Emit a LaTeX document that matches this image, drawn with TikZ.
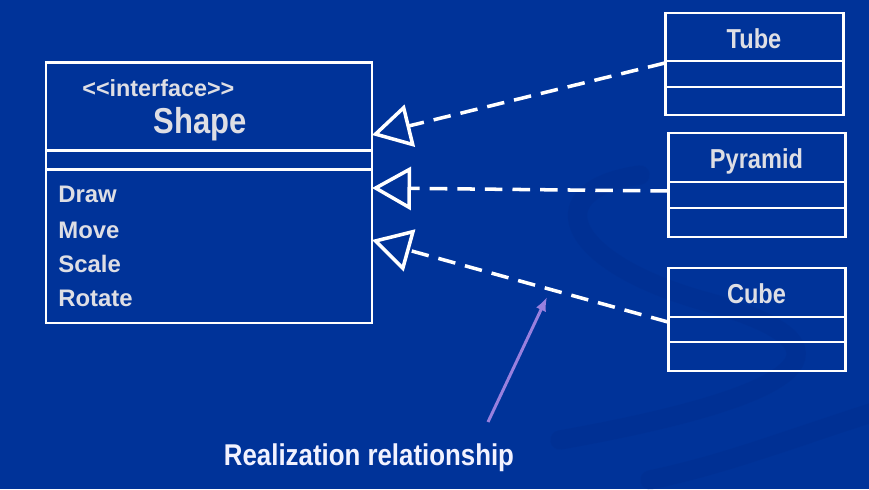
\documentclass[tikz,border=0pt]{standalone}
\usepackage{fontspec}
\setmainfont{Liberation Sans}
\newfontfamily\narrowsans[FakeStretch=0.86]{Liberation Sans}
\usetikzlibrary{positioning,arrows.meta,calc}
\definecolor{slideblue}{RGB}{0,51,153}
\definecolor{swirlblue}{RGB}{0,40,130}
\definecolor{labelgray}{RGB}{222,222,228}
\definecolor{captionwhite}{RGB}{242,242,255}
\definecolor{hintpurple}{RGB}{152,128,222}

\begin{document}
\begin{tikzpicture}[
    font=\bfseries,
    cls/.style={draw=white,line width=1.7pt,outer sep=0pt,inner sep=0pt,text=labelgray},
    clsname/.style={font=\narrowsans\bfseries\fontsize{15.6}{18}\selectfont,text height=13pt,text depth=0pt},
    op/.style={anchor=base west,text=labelgray,inner sep=0pt,font=\bfseries\fontsize{13.6}{16}\selectfont},
    real/.style={draw=white,line width=2pt,dash pattern=on 10pt off 5.7pt,-{Triangle[open,length=0.78cm,width=0.86cm]}},
    hint/.style={draw=hintpurple,line width=1.7pt,-{Latex[length=0.28cm,width=0.22cm]}},
    swirl/.style={draw=swirlblue,line width=11pt,line cap=round,opacity=0.2}
]
    \useasboundingbox (0,0) rectangle (17.38,9.78);
    \fill[slideblue] (0,0) rectangle (17.38,9.78);
    \begin{scope}
        \clip (0,0) rectangle (17.38,9.78);
        \draw[swirl] (12.8,6.28) .. controls (10.8,6.0) and (11.2,4.6) .. (14.0,3.78)
            .. controls (17.0,2.98) and (16.8,1.98) .. (11.2,0.98);
        \draw[swirl] (17.6,1.58) .. controls (15.5,0.9) and (14.5,0.5) .. (13.0,0.18);
    \end{scope}

    % interface
    \node[cls,minimum width=6.52cm,minimum height=1.76cm,anchor=north west] (shape) at (0.92,8.53) {};
    \node[cls,minimum width=6.52cm,minimum height=0.38cm,below=0pt of shape] (shapeattr) {};
    \node[cls,minimum width=6.52cm,minimum height=3.07cm,below=0pt of shapeattr] (shapeops) {};
    \node[anchor=base west,inner sep=0pt,text=labelgray,font=\bfseries\fontsize{13.3}{16}\selectfont]
        (stereo) at (1.64,7.84) {{<}{<}interface{>}{>}};
    \node[anchor=base,inner sep=0pt,text=labelgray,font=\narrowsans\bfseries\fontsize{20.5}{24}\selectfont]
        (shapename) at (4.00,7.10) {Shape};
    \node[op] (opdraw) at (1.16,5.72) {Draw};
    \node[op] (opmove) at (1.16,5.02) {Move};
    \node[op] (opscale) at (1.16,4.34) {Scale};
    \node[op] (oprotate) at (1.16,3.66) {Rotate};

    % classes
    \node[cls,clsname,minimum width=3.56cm,minimum height=0.96cm,anchor=north west] (tube) at (13.30,9.52) {Tube};
    \node[cls,minimum width=3.56cm,minimum height=0.52cm,below=0pt of tube] (tubeattr) {};
    \node[cls,minimum width=3.56cm,minimum height=0.56cm,below=0pt of tubeattr] (tubeops) {};

    \node[cls,clsname,minimum width=3.54cm,minimum height=0.98cm,anchor=north west] (pyramid) at (13.36,7.12) {Pyramid};
    \node[cls,minimum width=3.54cm,minimum height=0.52cm,below=0pt of pyramid] (pyramidattr) {};
    \node[cls,minimum width=3.54cm,minimum height=0.58cm,below=0pt of pyramidattr] (pyramidops) {};

    \node[cls,clsname,minimum width=3.54cm,minimum height=0.98cm,anchor=north west] (cube) at (13.36,4.42) {Cube};
    \node[cls,minimum width=3.54cm,minimum height=0.50cm,below=0pt of cube] (cubeattr) {};
    \node[cls,minimum width=3.54cm,minimum height=0.58cm,below=0pt of cubeattr] (cubeops) {};

    % realizations
    \draw[real] ([yshift=-0.04cm]tube.south west) -- ([yshift=0.31cm]shape.south east);
    \draw[real] ([yshift=-0.18cm]pyramid.south west) -- ([yshift=-0.37cm]shapeops.north east);
    \draw[real] ([yshift=-0.1cm]cube.south west) -- ([yshift=-1.41cm]shapeops.north east);

    % label
    \node[anchor=base,inner sep=0pt,text=captionwhite,font=\narrowsans\bfseries\fontsize{17.1}{20}\selectfont]
        (realization) at (7.38,0.48) {Realization relationship};
    \coordinate (hintfoot) at (9.76,1.34);
    \coordinate (hinttip) at (10.94,3.84);
    \draw[hint] (hintfoot) -- (hinttip);
\end{tikzpicture}
\end{document}
